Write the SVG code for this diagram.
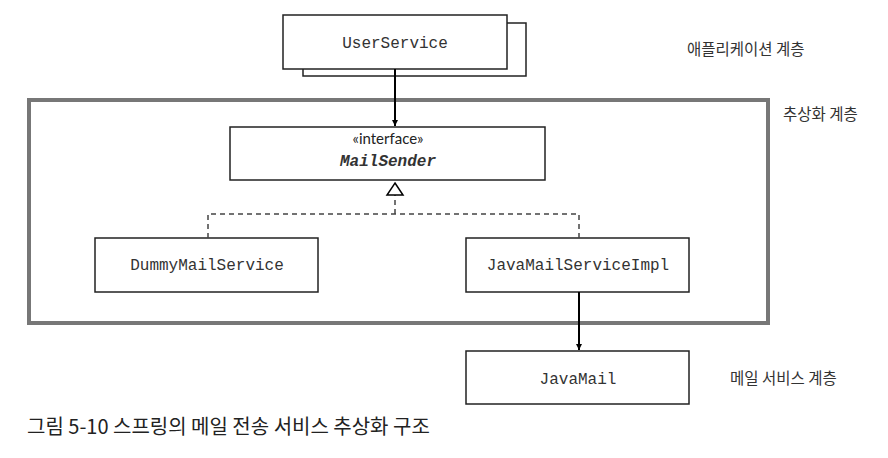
<svg xmlns="http://www.w3.org/2000/svg" width="888" height="458" viewBox="0 0 888 458">
<style>
.box{fill:#fff;stroke:#222;stroke-width:1.5}
.mono{font-family:"Liberation Mono","Courier New",monospace;font-size:16px;fill:#333;text-anchor:middle}
.lbl{font-family:"Noto Sans CJK KR","Noto Sans",sans-serif;font-size:15.5px;fill:#333}
.solid{stroke:#000;stroke-width:2;fill:none}
.dash{stroke:#444;stroke-width:1.5;fill:none;stroke-dasharray:5,4}
</style>
<defs>
<marker id="arr" viewBox="0 0 10 10" refX="10" refY="5" markerWidth="6" markerHeight="8" markerUnits="userSpaceOnUse" orient="auto">
<path d="M0,0 L10,5 L0,10 z" fill="#000"/>
</marker>
</defs>
<rect x="29" y="100" width="739" height="223" fill="none" stroke="#777" stroke-width="4"/>
<g id="UserService">
<rect class="box" x="303" y="23" width="223" height="53"/>
<rect class="box" x="283" y="15" width="224" height="54"/>
<text class="mono" x="395" y="48">UserService</text>
</g>
<g id="MailSender">
<rect class="box" x="230" y="127" width="315" height="53"/>
<text x="388" y="144" font-family="Lato,'Open Sans',sans-serif" font-size="15" fill="#222" text-anchor="middle">«interface»</text>
<text class="mono" x="388" y="166" font-weight="bold" font-style="italic" fill="#222">MailSender</text>
</g>
<g id="DummyMailService">
<rect class="box" x="95" y="238" width="223" height="54"/>
<text class="mono" x="207" y="270">DummyMailService</text>
</g>
<g id="JavaMailServiceImpl">
<rect class="box" x="466" y="238" width="223" height="54"/>
<text class="mono" x="578" y="270">JavaMailServiceImpl</text>
</g>
<g id="JavaMail">
<rect class="box" x="466" y="351" width="223" height="53"/>
<text class="mono" x="578" y="384">JavaMail</text>
</g>
<g id="connectors">
<line class="solid" x1="395" y1="69" x2="395" y2="126" marker-end="url(#arr)"/>
<path class="dash" d="M208,238 V214 H579 V238"/>
<path class="dash" d="M395,214 V195"/>
<path d="M395,183 L403,195 L387,195 z" fill="#fff" stroke="#000" stroke-width="1.5"/>
<line class="solid" x1="579" y1="292" x2="579" y2="350" marker-end="url(#arr)"/>
</g>
<text class="lbl" x="687" y="55">애플리케이션 계층</text>
<text class="lbl" x="783" y="120">추상화 계층</text>
<text class="lbl" x="730" y="384">메일 서비스 계층</text>
<text x="27" y="434" font-family="'Noto Sans CJK KR','Noto Sans',sans-serif" font-size="20" fill="#222">그림 5-10 스프링의 메일 전송 서비스 추상화 구조</text>
</svg>
